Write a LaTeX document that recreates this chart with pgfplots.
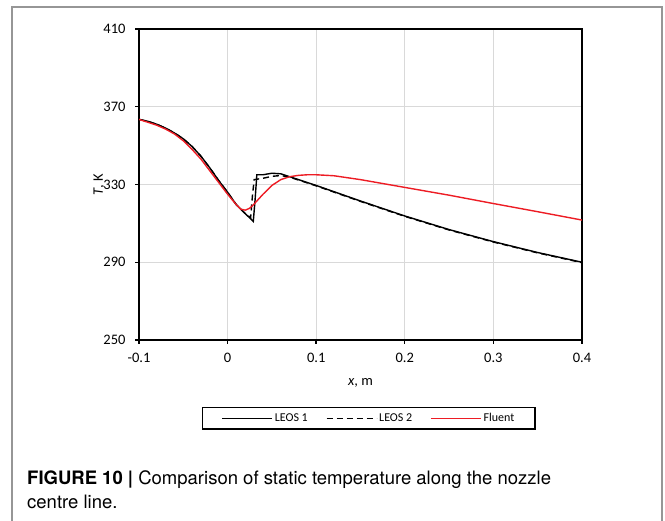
\documentclass[border=0pt]{standalone}
\usepackage{pgfplots}
\pgfplotsset{compat=1.18}
\usepackage{fontspec}
\setmainfont{Carlito}
\newfontfamily\capfont{TeX Gyre Heros}
\definecolor{gridgray}{RGB}{217,217,217}
\definecolor{framegray}{RGB}{150,150,150}
\definecolor{fluentred}{RGB}{237,28,36}

\pgfplotstableread{
x T
-0.1 363.5
-0.09 362.5
-0.08 361
-0.07 359
-0.06 356.5
-0.05 353.5
-0.04 349.5
-0.03 344.5
-0.02 338.5
-0.01 332
0.0 326
0.01 319.5
0.02 315
0.029 311
0.031 322
0.033 335
0.04 335
0.05 335.8
0.06 335.5
0.07 334
0.08 332.5
0.1 329.5
0.15 321.5
0.2 313.8
0.25 306.8
0.3 300.6
0.35 295
0.4 290
}\leosone

\pgfplotstableread{
x T
-0.1 363.5
-0.09 362.5
-0.08 361
-0.07 359
-0.06 356.5
-0.05 353.5
-0.04 349.5
-0.03 344.5
-0.02 338.5
-0.01 332
0.0 326
0.01 319.5
0.02 315
0.026 313
0.028 324
0.03 332.5
0.04 333.2
0.05 334.2
0.06 334.6
0.07 333.8
0.08 332.3
0.1 329.3
0.15 321.3
0.2 313.6
0.25 306.6
0.3 300.4
0.35 294.8
0.4 289.8
}\leostwo

\pgfplotstableread{
x T
-0.1 363.5
-0.09 362
-0.08 360.5
-0.07 358.5
-0.06 356
-0.05 352.5
-0.04 348
-0.03 343
-0.02 337
-0.01 331
0.0 325
0.01 319.5
0.015 317.3
0.02 316.8
0.025 317.8
0.03 320
0.04 325
0.05 329.5
0.06 332.5
0.07 334
0.08 334.7
0.09 335
0.1 335
0.12 334.5
0.15 332.5
0.2 328.5
0.25 324.5
0.3 320.2
0.35 316
0.4 311.7
}\fluent

\begin{document}
\begin{tikzpicture}[x=1pt,y=1pt]
\useasboundingbox (0,0) rectangle (665,521);
\draw[framegray, line width=1.3pt] (12,-2) -- (12,514) -- (662,514) -- (662,-2);
\begin{axis}[
  at={(139pt,181pt)}, anchor=south west,
  scale only axis, width=443pt, height=311pt,
  xmin=-0.1, xmax=0.4, ymin=250, ymax=410,
  xtick={-0.1,0,0.1,0.2,0.3,0.4},
  xticklabels={-0.1,0,0.1,0.2,0.3,0.4},
  ytick={250,290,330,370,410},
  grid=major,
  major grid style={gridgray, line width=0.9pt},
  axis line style={black, line width=1.6pt},
  tick style={black, line width=1.4pt},
  tick align=outside, major tick length=4pt,
  xtick pos=bottom, ytick pos=left,
  ticklabel style={font=\fontsize{14.5}{16}\selectfont},
  /pgf/number format/assume math mode=true,
  xticklabel style={yshift=-6pt},
  yticklabel style={xshift=-6pt},
  xlabel={\textit{x}, m},
  ylabel={\textit{T}, K},
  label style={font=\fontsize{14.5}{16}\selectfont},
  xlabel style={at={(axis description cs:0.5,-0.138)}, anchor=center},
  ylabel style={at={(axis description cs:-0.09,0.5)}, anchor=center},
  legend columns=3,
  legend style={at={(axis description cs:0.519,-0.252)}, anchor=center,
    draw=black, line width=1.8pt, inner xsep=19pt, inner ysep=4pt,
    font=\fontsize{12}{14}\selectfont,
    /tikz/every even column/.append style={column sep=16pt}},
  legend image code/.code={\draw[#1] (0pt,0pt) -- (50pt,0pt);},
]
\addplot[black, line width=1.4pt, no markers] table[x=x,y=T] {\leosone};
\addlegendentry{LEOS 1}
\addplot[black, line width=1.4pt, dash pattern=on 6pt off 4pt, no markers] table[x=x,y=T] {\leostwo};
\addlegendentry{LEOS 2}
\addplot[fluentred, line width=1.4pt, no markers] table[x=x,y=T] {\fluent};
\addlegendentry{Fluent}
\end{axis}
\node[anchor=base west, inner sep=0pt, font=\capfont\fontsize{18.5}{22}\selectfont] at (27,36.5) {\textbf{FIGURE 10 |} Comparison of static temperature along the nozzle};
\node[anchor=base west, inner sep=0pt, font=\capfont\fontsize{18.5}{22}\selectfont] at (27,12) {centre line.};
\end{tikzpicture}
\end{document}
